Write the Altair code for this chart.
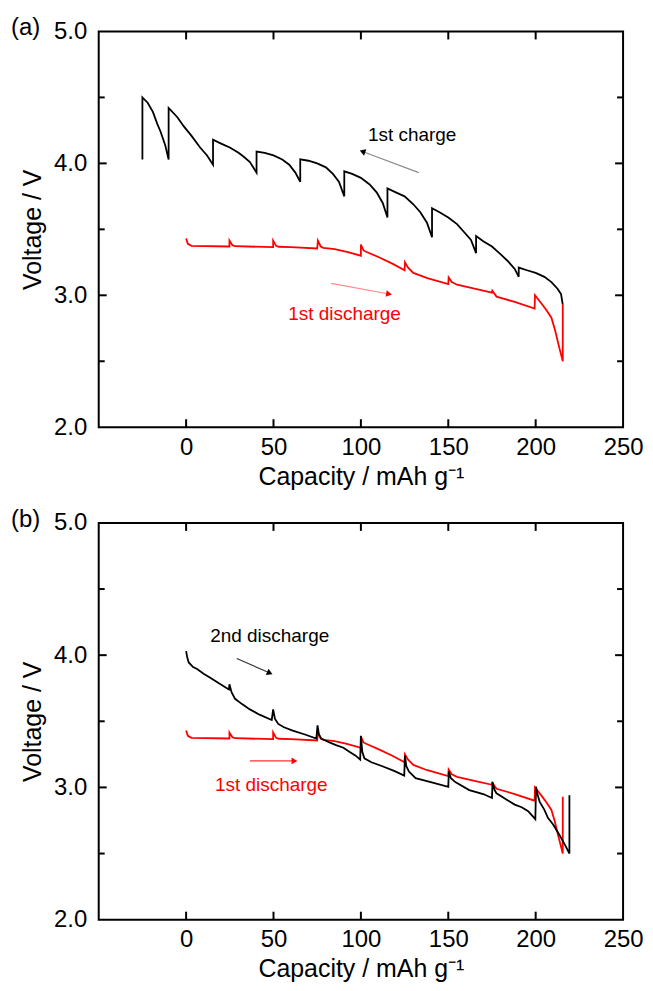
import altair as alt
import pandas as pd

FONT = "Liberation Sans"

# ---------------- data ----------------
# Panel (a): 1st charge (black)
charge_cap = [-25, -25, -22, -19, -16.5, -14.6, -12, -10,
              -10, -5, -1.3, 3, 8, 12, 15.4,
              15.4, 20, 25, 30, 33, 36.5, 40.3,
              40.3, 45, 50, 55, 59, 62.5, 65.3,
              65.3, 70, 75, 80, 84, 87.5, 90.5,
              90.5, 95, 100, 105, 109, 112.5, 115.2,
              115.2, 120, 125, 130, 134, 137.8, 140.7,
              140.7, 145, 150, 155, 159, 163, 165.9,
              165.9, 170, 175, 180, 184, 188, 190.3,
              190.3, 195, 200, 205, 209, 212.5, 214.5, 215.5]
charge_v = [4.03, 4.50, 4.46, 4.39, 4.30, 4.24, 4.14, 4.03,
            4.42, 4.35, 4.28, 4.21, 4.12, 4.06, 3.99,
            4.18, 4.15, 4.12, 4.08, 4.05, 4.01, 3.93,
            4.09, 4.08, 4.06, 4.03, 3.99, 3.93, 3.86,
            4.03, 4.02, 4.00, 3.97, 3.92, 3.86, 3.75,
            3.94, 3.92, 3.89, 3.84, 3.78, 3.70, 3.59,
            3.81, 3.78, 3.75, 3.69, 3.63, 3.55, 3.44,
            3.66, 3.63, 3.59, 3.54, 3.48, 3.42, 3.32,
            3.45, 3.41, 3.37, 3.31, 3.26, 3.20, 3.14,
            3.21, 3.19, 3.17, 3.14, 3.10, 3.05, 3.01, 2.93]

# 1st discharge (red), shown in both panels
dis1_cap = [0, 1, 3, 24.8, 24.8, 26.5, 28, 49.8, 49.8, 51.5, 53, 60, 75, 75.4,
            77, 78.5, 85, 92, 100, 100, 101.5, 103, 110, 118, 125, 125.2, 127,
            130, 138, 150, 150.2, 152, 155, 165, 175, 175.2, 177.6, 188, 199.4,
            199.6, 203.2, 206, 209, 211, 213, 215.5, 215.5]
dis1_v = [3.43, 3.39, 3.375, 3.37, 3.415, 3.38, 3.372, 3.365, 3.415, 3.375, 3.368,
          3.365, 3.355, 3.415, 3.37, 3.36, 3.35, 3.33, 3.30, 3.385, 3.34, 3.33,
          3.29, 3.24, 3.19, 3.25, 3.21, 3.17, 3.13, 3.085, 3.135, 3.10, 3.08,
          3.05, 3.02, 3.035, 2.99, 2.95, 2.90, 3.00, 2.94, 2.89, 2.83, 2.74,
          2.63, 2.50, 2.93]

# Panel (b): 2nd discharge (black)
dis2_cap = [0, 0.7, 1.5, 4, 6.3, 10, 13.8, 19, 24.5, 24.8, 26, 28, 32, 36.5, 42,
            49, 49.8, 50.8, 52.7, 56, 61, 68, 74.5, 75.2, 76, 77.3, 82, 85.8, 90,
            93.4, 97, 99.6, 100, 100.8, 102, 106, 112.3, 119, 124.8, 125.2, 126,
            127.5, 131.3, 140, 150, 150.3, 151.5, 154, 162, 170, 175, 175.3,
            176.5, 177.6, 183, 188, 192, 195.7, 199.8, 200.2, 201, 202.3, 205,
            207, 210, 213.6, 217, 219.3, 219.3]
dis2_v = [4.03, 3.98, 3.945, 3.91, 3.895, 3.86, 3.83, 3.785, 3.74, 3.78, 3.72,
          3.67, 3.63, 3.59, 3.55, 3.51, 3.59, 3.52, 3.48, 3.455, 3.43, 3.40,
          3.37, 3.47, 3.40, 3.37, 3.34, 3.32, 3.30, 3.27, 3.24, 3.21, 3.39, 3.27,
          3.22, 3.19, 3.16, 3.125, 3.09, 3.24, 3.16, 3.12, 3.07, 3.04, 3.005,
          3.12, 3.07, 3.04, 2.98, 2.95, 2.92, 3.04, 2.98, 2.955, 2.91, 2.87,
          2.85, 2.82, 2.76, 3.005, 2.95, 2.89, 2.83, 2.77, 2.72, 2.64, 2.56,
          2.50, 2.94]

# annotations
a_labels = ["1st charge", "1st discharge"]
a_label_cap = [104, 58.4]
a_label_v = [4.17, 2.81]
a_label_col = ["#000000", "#ff0000"]
a_arrow_cap = [[133.1, 100.9], [83, 116.1]]
a_arrow_v = [[3.93, 4.09], [3.09, 3.01]]
a_arrow_col = ["#8a8a8a", "#ff8a8a"]
a_head_col = ["#000000", "#ff0000"]
a_head_angle = [200, 10]

b_labels = ["2nd discharge", "1st discharge"]
b_label_cap = [13.8, 16.5]
b_label_v = [4.10, 2.97]
b_label_col = ["#000000", "#ff0000"]
b_arrow_cap = [[29, 47.9], [36.5, 62]]
b_arrow_v = [[3.975, 3.865], [3.20, 3.20]]
b_arrow_col = ["#333333", "#ff3030"]
b_head_col = ["#000000", "#ff0000"]
b_head_angle = [24, 0]

x_tick_vals = [0, 50, 100, 150, 200]
x_label_vals = [0, 50, 100, 150, 200, 250]
y_major_ticks = [3, 4]
y_minor_ticks = [2.5, 3.5, 4.5]
y_label_vals = [2, 3, 4, 5]

W = 526
H_A = 397
H_B = 398

xscale = alt.Scale(domain=[-50, 250], nice=False, zero=False)
yscale = alt.Scale(domain=[2, 5], nice=False, zero=False)

xaxis = alt.Axis(title="Capacity / mAh g⁻¹", values=x_label_vals, format="d",
                 ticks=False, tickSize=0, domain=False, grid=False,
                 labelFontSize=24, labelPadding=8, labelFlush=False,
                 labelFont=FONT, titleFont=FONT, titleFontSize=25,
                 titleFontWeight="normal", titlePadding=5,
                 labelColor="black", titleColor="black")
yaxis = alt.Axis(title="Voltage / V", values=y_label_vals, format=".1f",
                 ticks=False, tickSize=0, domain=False, grid=False,
                 labelFontSize=24, labelPadding=12, labelFlush=False,
                 labelFont=FONT, titleFont=FONT, titleFontSize=25,
                 titleFontWeight="normal", titlePadding=8,
                 labelColor="black", titleColor="black")


def X():
    return alt.X("cap:Q", scale=xscale, axis=xaxis)


def Y():
    return alt.Y("volt:Q", scale=yscale, axis=yaxis)


def series_df(cap, v, name):
    return pd.DataFrame({"cap": cap, "volt": v, "series": name,
                         "idx": list(range(len(cap)))})


def panel(curves, labels, lcap, lv, lcol, acap, av, acol, hcol, hang, tag, H):
    lines_df = pd.concat([series_df(c, v, n) for c, v, n in curves])
    names = [n for _, _, n in curves]
    colors = ["#000000" if "black" in n else "#ff0000" for n in names]
    lines = alt.Chart(lines_df).mark_line(strokeWidth=1.8).encode(
        x=X(), y=Y(),
        color=alt.Color("series:N", scale=alt.Scale(domain=names, range=colors), legend=None),
        order="idx:Q")

    text_df = pd.DataFrame({"cap": lcap, "volt": lv, "label": labels, "col": lcol})
    texts = alt.Chart(text_df).mark_text(align="left", baseline="alphabetic",
                                         fontSize=19, font=FONT).encode(
        x=X(), y=Y(), text="label:N", color=alt.Color("col:N", scale=None))

    arr_rows = []
    for i in range(len(acap)):
        for j in range(2):
            arr_rows.append({"cap": acap[i][j], "volt": av[i][j], "arrow": i,
                             "idx": j, "col": acol[i]})
    arr_df = pd.DataFrame(arr_rows)
    arrows = alt.Chart(arr_df).mark_line(strokeWidth=1.2).encode(
        x=X(), y=Y(), detail="arrow:N", order="idx:Q",
        color=alt.Color("col:N", scale=None))

    head_df = pd.DataFrame({"cap": [a[1] for a in acap], "volt": [v[1] for v in av],
                            "col": hcol, "ang": hang})
    heads = alt.Chart(head_df).mark_point(shape="triangle-right", filled=True,
                                          size=45, opacity=1).encode(
        x=X(), y=Y(), angle=alt.Angle("ang:Q", scale=None),
        color=alt.Color("col:N", scale=None))

    xt = pd.DataFrame({"cap": x_tick_vals})
    bt = alt.Chart(xt).mark_rule(color="black", strokeWidth=2).encode(
        x=X(), y=alt.value(H), y2=alt.value(H - 8))
    tt = alt.Chart(xt).mark_rule(color="black", strokeWidth=2).encode(
        x=X(), y=alt.value(0), y2=alt.value(8))
    ymj = pd.DataFrame({"volt": y_major_ticks})
    ymn = pd.DataFrame({"volt": y_minor_ticks})
    lmj = alt.Chart(ymj).mark_rule(color="black", strokeWidth=2).encode(
        y=Y(), x=alt.value(0), x2=alt.value(8))
    lmn = alt.Chart(ymn).mark_rule(color="black", strokeWidth=2).encode(
        y=Y(), x=alt.value(0), x2=alt.value(6))
    rmj = alt.Chart(ymj).mark_rule(color="black", strokeWidth=2).encode(
        y=Y(), x=alt.value(W), x2=alt.value(W - 8))
    rmn = alt.Chart(ymn).mark_rule(color="black", strokeWidth=2).encode(
        y=Y(), x=alt.value(W), x2=alt.value(W - 6))

    tag_c = alt.Chart(pd.DataFrame({"t": [tag]})).mark_text(
        align="left", baseline="alphabetic", fontSize=24, font=FONT, color="black").encode(
        text="t:N", x=alt.value(-88), y=alt.value(4))

    return alt.layer(lines, arrows, heads, texts, bt, tt, lmj, lmn, rmj, rmn, tag_c).properties(
        width=W, height=H)


panel_a = panel([(charge_cap, charge_v, "charge1_black"), (dis1_cap, dis1_v, "discharge1_red")],
                a_labels, a_label_cap, a_label_v, a_label_col,
                a_arrow_cap, a_arrow_v, a_arrow_col, a_head_col, a_head_angle, "(a)", H_A)
panel_b = panel([(dis1_cap, dis1_v, "discharge1_red"), (dis2_cap, dis2_v, "discharge2_black")],
                b_labels, b_label_cap, b_label_v, b_label_col,
                b_arrow_cap, b_arrow_v, b_arrow_col, b_head_col, b_head_angle, "(b)", H_B)

chart = alt.vconcat(panel_a, panel_b, spacing=17).resolve_scale(color="independent").properties(
    padding={"left": 2, "top": 6, "right": 0, "bottom": 0}
).configure_view(stroke="black", strokeWidth=2)

chart.save("out.html", embed_options={"renderer": "svg", "actions": False})
